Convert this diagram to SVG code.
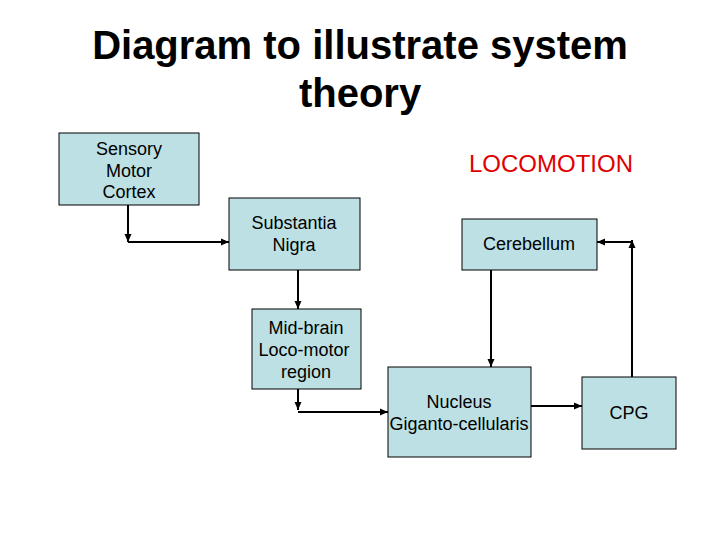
<svg xmlns="http://www.w3.org/2000/svg" width="720" height="540" viewBox="0 0 720 540">
<style>
.box{fill:#bde0e4;stroke:#000;stroke-width:1}
.t{font-family:"Liberation Sans",Arial,sans-serif;font-size:18px;fill:#000;text-anchor:middle}
.title{font-family:"Liberation Sans",Arial,sans-serif;font-size:40px;font-weight:bold;fill:#000;text-anchor:middle}
.c{fill:none;stroke:#000;stroke-width:2}
</style>
<defs>
<marker id="ah" markerUnits="userSpaceOnUse" markerWidth="8" markerHeight="8" viewBox="0 0 8 8" refX="8" refY="4" orient="auto">
<path d="M0,0.5 L8,4 L0,7.5 Z" fill="#000"/>
</marker>
</defs>
<rect width="720" height="540" fill="#fff"/>
<g id="title">
<text class="title" x="360" y="59">Diagram to illustrate system</text>
<text class="title" x="360" y="107">theory</text>
</g>
<text id="locomotion" x="551" y="172" font-family="'Liberation Sans',Arial,sans-serif" font-size="24" fill="#e00000" text-anchor="middle">LOCOMOTION</text>
<g id="connectors">
<path class="c" d="M128,205 V242" marker-end="url(#ah)"/>
<path class="c" d="M128,242 H229" marker-end="url(#ah)"/>
<path class="c" d="M298,270 V309" marker-end="url(#ah)"/>
<path class="c" d="M298,389 V410" marker-end="url(#ah)"/>
<path class="c" d="M298,412 H388" marker-end="url(#ah)"/>
<path class="c" d="M491,270 V367" marker-end="url(#ah)"/>
<path class="c" d="M531,406 H582" marker-end="url(#ah)"/>
<path class="c" d="M632,377 V240" marker-end="url(#ah)"/>
<path class="c" d="M632,242 H597" marker-end="url(#ah)"/>
</g>
<g id="sensory">
<rect class="box" x="59" y="133" width="140" height="72"/>
<text class="t" x="129" y="155">Sensory</text>
<text class="t" x="129" y="177">Motor</text>
<text class="t" x="129" y="198">Cortex</text>
</g>
<g id="substantia">
<rect class="box" x="229" y="198" width="131" height="72"/>
<text class="t" x="294" y="229">Substantia</text>
<text class="t" x="294" y="251">Nigra</text>
</g>
<g id="midbrain">
<rect class="box" x="252" y="309" width="109" height="80"/>
<text class="t" x="306" y="334">Mid-brain</text>
<text class="t" x="304" y="356">Loco-motor</text>
<text class="t" x="306" y="378">region</text>
</g>
<g id="cerebellum">
<rect class="box" x="462" y="219" width="135" height="51"/>
<text class="t" x="529" y="250">Cerebellum</text>
</g>
<g id="nucleus">
<rect class="box" x="388" y="367" width="143" height="90"/>
<text class="t" x="459" y="408">Nucleus</text>
<text class="t" x="459" y="430">Giganto-cellularis</text>
</g>
<g id="cpg">
<rect class="box" x="582" y="377" width="94" height="72"/>
<text class="t" x="629" y="419">CPG</text>
</g>
</svg>
